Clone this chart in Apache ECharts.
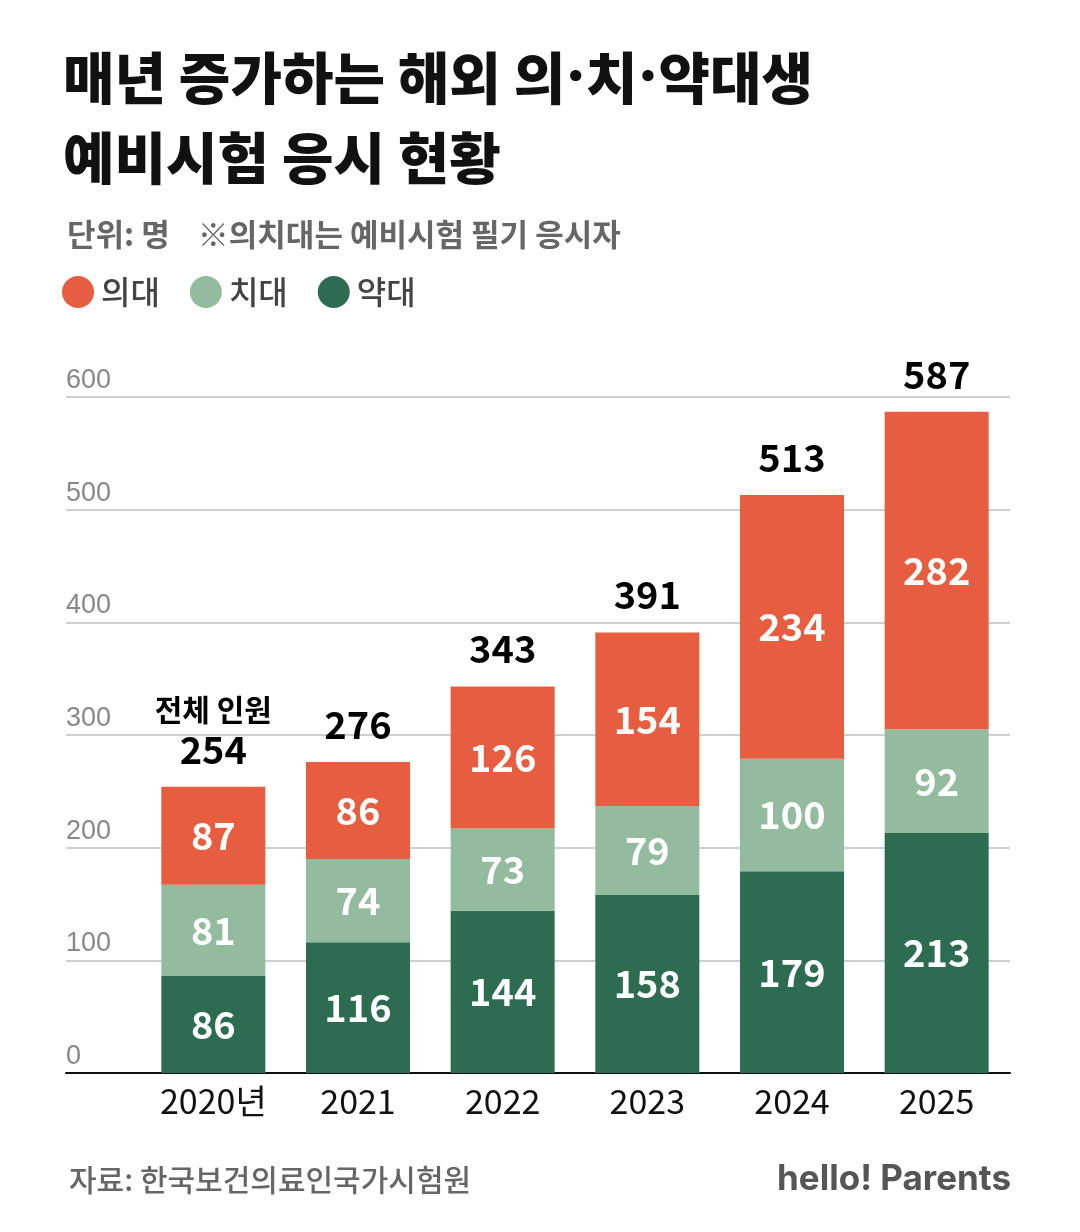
<!DOCTYPE html>
<html>
<head>
<meta charset="utf-8">
<script src="https://cdn.jsdelivr.net/npm/echarts@6/dist/echarts.min.js"></script>
<style>
  html, body { margin: 0; padding: 0; background: #fff; }
  #container { width: 1080px; height: 1232px; }
</style>
</head>
<body>
<div id="container"></div>
<script type="text/javascript">
    // 연도별 예비시험 응시자 (단위: 명)
    var years = ['2020년', '2021', '2022', '2023', '2024', '2025'];
    var yakdae = [86, 116, 144, 158, 179, 213];
    var chidae = [81, 74, 73, 79, 100, 92];
    var uidae = [87, 86, 126, 154, 234, 282];
    var totals = [254, 276, 343, 391, 513, 587];
    var yTicks = [0, 100, 200, 300, 400, 500, 600];

    var FONT = "'Noto Sans CJK KR', 'Noto Sans', sans-serif";
    var colors = { uidae: '#E65E3F', chidae: '#93BB9E', yakdae: '#2E6C51' };

    var chartDom = document.getElementById('container');
    var myChart = echarts.init(chartDom);
    var option;

    var innerLabel = {
        show: true,
        position: 'inside',
        color: '#fff',
        fontSize: 38,
        fontWeight: 'bold',
        fontFamily: FONT
    };

    var titleRich = {
        a: { fontSize: 56, fontWeight: 900, color: '#111', lineHeight: 80, fontFamily: FONT },
        d: { fontSize: 56, fontWeight: 900, color: '#111', lineHeight: 80, fontFamily: "'Inter', sans-serif" }
    };

    option = {
        animation: false,
        backgroundColor: '#fff',
        textStyle: { fontFamily: FONT },
        title: [
            {
                text: '{a|매년 증가하는 해외 의}{d|·}{a|치}{d|·}{a|약대생}\n{a|예비시험 응시 현황}',
                left: 58, top: 33,
                textStyle: { rich: titleRich, lineHeight: 80 }
            },
            {
                text: '단위: 명    ※의치대는 예비시험 필기 응시자',
                left: 62, top: 214,
                textStyle: { fontSize: 31, fontWeight: 600, color: '#666', fontFamily: FONT }
            },
            {
                text: '자료: 한국보건의료인국가시험원',
                left: 64, top: 1160,
                textStyle: { fontSize: 30, fontWeight: 500, color: '#666', fontFamily: FONT }
            },
            {
                text: 'hello! Parents',
                right: 64, top: 1157,
                textStyle: { fontSize: 35, fontWeight: 'bold', color: '#555', fontFamily: "'Inter', sans-serif" }
            }
        ],
        legend: {
            data: ['의대', '치대', '약대'],
            left: 62, top: 276,
            padding: 0,
            icon: 'circle',
            itemWidth: 32, itemHeight: 32,
            itemGap: 30,
            textStyle: { fontSize: 32, fontWeight: 500, color: '#444', fontFamily: FONT, padding: [0, 0, 0, 2] }
        },
        grid: [
            { left: 141, right: 71, top: 397, bottom: 159 },
            { left: 66, right: 70, top: 397, bottom: 159 }
        ],
        xAxis: [
            {
                type: 'category',
                gridIndex: 0,
                data: years,
                axisLine: { show: false },
                axisTick: { show: false },
                axisLabel: { fontSize: 34, color: '#111', margin: 11, fontFamily: FONT }
            },
            {
                type: 'category',
                gridIndex: 1,
                data: [''],
                axisLine: { show: true, lineStyle: { color: '#111', width: 2 } },
                axisTick: { show: false },
                axisLabel: { show: false }
            }
        ],
        yAxis: [
            {
                type: 'value',
                gridIndex: 0,
                min: 0, max: 600, interval: 100,
                show: false,
                splitLine: { show: false }
            },
            {
                type: 'value',
                gridIndex: 1,
                min: yTicks[0], max: yTicks[yTicks.length - 1], interval: 100,
                axisLine: { show: false },
                axisTick: { show: false },
                splitLine: { show: true, lineStyle: { color: '#cfcfcf', width: 2 } },
                axisLabel: {
                    inside: true,
                    margin: 0,
                    align: 'left',
                    verticalAlign: 'bottom',
                    padding: [0, 0, 3, 0],
                    fontSize: 27,
                    color: '#888',
                    fontFamily: "'Liberation Sans', 'Arial', sans-serif"
                }
            }
        ],
        series: [
            {
                name: '약대',
                type: 'bar',
                stack: 'total',
                barWidth: 104,
                itemStyle: { color: colors.yakdae },
                label: innerLabel,
                data: yakdae
            },
            {
                name: '치대',
                type: 'bar',
                stack: 'total',
                barWidth: 104,
                itemStyle: { color: colors.chidae },
                label: innerLabel,
                data: chidae
            },
            {
                name: '의대',
                type: 'bar',
                stack: 'total',
                barWidth: 104,
                itemStyle: { color: colors.uidae },
                label: innerLabel,
                data: uidae
            },
            {
                // 막대 위 전체 인원 표시용 (보이지 않는 점)
                name: '전체',
                type: 'scatter',
                data: totals,
                symbol: 'circle',
                symbolSize: 1,
                itemStyle: { color: 'rgba(255,255,255,0)', opacity: 1 },
                silent: true,
                z: 5,
                label: {
                    show: true,
                    position: 'top',
                    distance: 16,
                    opacity: 1,
                    color: '#000',
                    fontFamily: FONT,
                    formatter: function (p) {
                        if (p.dataIndex === 0) {
                            return '{t|전체 인원}\n{v|' + p.value + '}';
                        }
                        return '{v|' + p.value + '}';
                    },
                    rich: {
                        t: { fontSize: 30, fontWeight: 'bold', color: '#000', lineHeight: 38, fontFamily: FONT, align: 'center' },
                        v: { fontSize: 38, fontWeight: 'bold', color: '#000', lineHeight: 42, fontFamily: FONT, align: 'center' }
                    }
                }
            }
        ]
    };

    option && myChart.setOption(option);
</script>
</body>
</html>
